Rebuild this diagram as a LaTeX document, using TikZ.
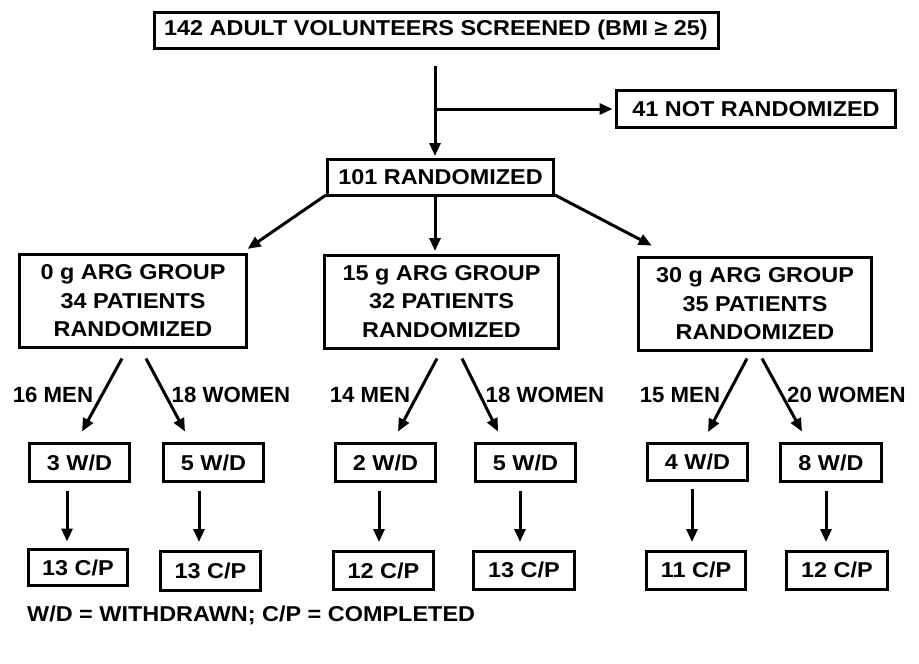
\documentclass[tikz,border=0pt]{standalone}
\usepackage{fontspec}
\setmainfont{Liberation Sans}[FakeStretch=1.09]
\newfontfamily\lblfont{Liberation Sans}[FakeStretch=1.01]
\usetikzlibrary{arrows.meta}
\begin{document}
\begin{tikzpicture}[x=1pt,y=-1pt,
 box/.style={draw,line width=3pt,font=\bfseries\fontsize{21.5}{28.5}\selectfont,align=center,inner sep=0pt},
 arr/.style={line width=3pt,-{Triangle[length=13pt,width=11pt]}},
 lbl/.style={font=\lblfont\bfseries\fontsize{22}{28}\selectfont,inner sep=0pt},
 note/.style={font=\bfseries\fontsize{21.5}{28}\selectfont,inner sep=0pt}]
\useasboundingbox (0,0) rectangle (919,664);
\fill[white] (0,0) rectangle (919,664);
% boxes
\node[box,minimum width=564,minimum height=36] (top) at (436,30) {142 ADULT VOLUNTEERS SCREENED (BMI ≥ 25)};
\node[box,minimum width=279,minimum height=37] (notr) at (756,109) {41 NOT RANDOMIZED};
\node[box,minimum width=226,minimum height=36] (rand) at (440.5,177.5) {101 RANDOMIZED};
\node[box,minimum width=227,minimum height=93] (g0) at (133,301) {0 g ARG GROUP\\34 PATIENTS\\RANDOMIZED};
\node[box,minimum width=234,minimum height=93] (g15) at (441.5,301.5) {15 g ARG GROUP\\32 PATIENTS\\RANDOMIZED};
\node[box,minimum width=233,minimum height=93] (g30) at (755,304) {30 g ARG GROUP\\35 PATIENTS\\RANDOMIZED};
% W/D row
\node[box,minimum width=100,minimum height=38] (wd1) at (79.5,462.5) {3 W/D};
\node[box,minimum width=100,minimum height=38] (wd2) at (213.5,462.5) {5 W/D};
\node[box,minimum width=100,minimum height=38] (wd3) at (385.5,462.5) {2 W/D};
\node[box,minimum width=100,minimum height=38] (wd4) at (525.5,462.5) {5 W/D};
\node[box,minimum width=100,minimum height=37] (wd5) at (697.5,461.5) {4 W/D};
\node[box,minimum width=101,minimum height=38] (wd6) at (831,462.5) {8 W/D};
% C/P row
\node[box,minimum width=99,minimum height=36] (cp1) at (78,567.5) {13 C/P};
\node[box,minimum width=100,minimum height=39] (cp2) at (210.5,571) {13 C/P};
\node[box,minimum width=100,minimum height=38] (cp3) at (383.5,570.5) {12 C/P};
\node[box,minimum width=101,minimum height=38] (cp4) at (524,570) {13 C/P};
\node[box,minimum width=99,minimum height=38] (cp5) at (696,570) {11 C/P};
\node[box,minimum width=101,minimum height=38] (cp6) at (837,570) {12 C/P};
% connectors top
\draw[arr,shorten <=16pt,shorten >=2pt] (top.south -| 435,0) -- (rand.north -| 435,0);
\coordinate (br) at (435,0 |- notr.west);
\draw[arr,shorten >=2.5pt] (br) -- (notr.west);
\draw[arr,shorten >=2pt] ([yshift=2pt]rand.south west) -- ([xshift=-2pt,yshift=3pt]g0.north east);
\draw[arr,shorten >=2.5pt] (rand.south -| 435,0) -- (g15.north -| 435,0);
\draw[arr,shorten >=2pt] ([yshift=2pt]rand.south east) -- ([xshift=16.5pt,yshift=9.5pt]g30.north west);
% sex arrows
\draw[arr] ([xshift=-11pt,yshift=-9.5pt]g0.south) -- ([xshift=2.5pt,yshift=10.5pt]wd1.north);
\draw[arr] ([xshift=13pt,yshift=-9.5pt]g0.south) -- ([xshift=-28.5pt,yshift=10.5pt]wd2.north);
\draw[arr] ([xshift=-4.5pt,yshift=-9pt]g15.south) -- ([xshift=12.5pt,yshift=10.5pt]wd3.north);
\draw[arr] ([xshift=20.5pt,yshift=-9pt]g15.south) -- ([xshift=-27.5pt,yshift=10.5pt]wd4.north);
\draw[arr] ([xshift=-8pt,yshift=-6.5pt]g30.south) -- ([xshift=10.5pt,yshift=9.5pt]wd5.north);
\draw[arr] ([xshift=7pt,yshift=-6.5pt]g30.south) -- ([xshift=-29pt,yshift=10.5pt]wd6.north);
% W/D -> C/P
\draw[arr,shorten <=7.5pt,shorten >=6.5pt] ([xshift=-12.5pt]wd1.south) -- ([xshift=-12.5pt]wd1.south |- cp1.north);
\draw[arr,shorten <=7.5pt,shorten >=8pt] ([xshift=-14.5pt]wd2.south) -- ([xshift=-14.5pt]wd2.south |- cp2.north);
\draw[arr,shorten <=7.5pt,shorten >=8pt] ([xshift=-6.5pt]wd3.south) -- ([xshift=-6.5pt]wd3.south |- cp3.north);
\draw[arr,shorten <=7.5pt,shorten >=7.5pt] ([xshift=-5.5pt]wd4.south) -- ([xshift=-5.5pt]wd4.south |- cp4.north);
\draw[arr,shorten <=7.5pt,shorten >=7.5pt] ([xshift=-5.5pt]wd5.south) -- ([xshift=-5.5pt]wd5.south |- cp5.north);
\draw[arr,shorten <=7.5pt,shorten >=7.5pt] ([xshift=-5pt]wd6.south) -- ([xshift=-5pt]wd6.south |- cp6.north);
% labels
\node[lbl] (l1) at (53,395) {16 MEN};
\node[lbl] (l2) at (231,395) {18 WOMEN};
\node[lbl] (l3) at (370,395) {14 MEN};
\node[lbl] (l4) at (545,395) {18 WOMEN};
\node[lbl] (l5) at (680,395) {15 MEN};
\node[lbl] (l6) at (846.5,395) {20 WOMEN};
\node[note,anchor=west] (legend) at (27,615) {W/D = WITHDRAWN; C/P = COMPLETED};
\end{tikzpicture}
\end{document}
